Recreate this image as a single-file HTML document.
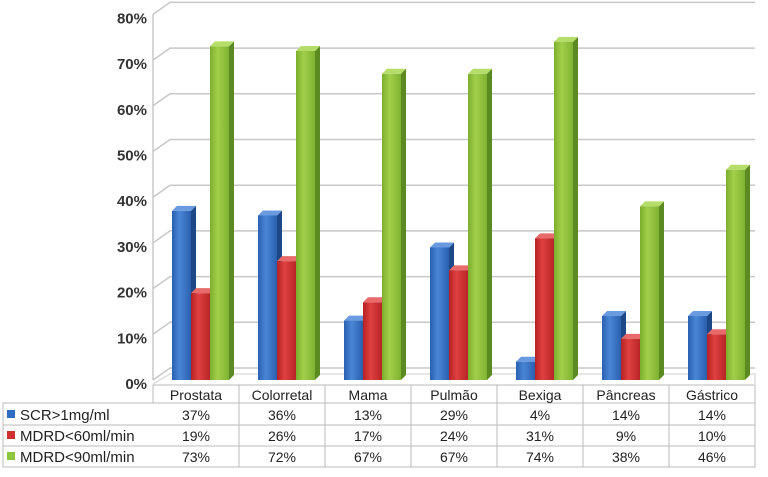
<!DOCTYPE html>
<html><head><style>
body{margin:0;background:#fff;}
svg text{font-family:"Liberation Sans",sans-serif;}
</style></head><body>
<svg width="768" height="472" xmlns="http://www.w3.org/2000/svg">
<defs>
<linearGradient id="gb" x1="0" x2="1"><stop offset="0" stop-color="#2a5fb0"/><stop offset=".4" stop-color="#4a86d6"/><stop offset="1" stop-color="#2b5fae"/></linearGradient>
<linearGradient id="gr" x1="0" x2="1"><stop offset="0" stop-color="#b52223"/><stop offset=".4" stop-color="#e04040"/><stop offset="1" stop-color="#b72527"/></linearGradient>
<linearGradient id="gg" x1="0" x2="1"><stop offset="0" stop-color="#7cae2e"/><stop offset=".4" stop-color="#a2cf4a"/><stop offset="1" stop-color="#80b232"/></linearGradient>
</defs>
<g id="grid" stroke="#c8c8c8" stroke-width="1.5" fill="none"></g>
<g id="bars"></g>
<g id="tbl"></g>
<script>
var ns="http://www.w3.org/2000/svg";
function el(p,t,a,txt){var e=document.createElementNS(ns,t);for(var k in a)e.setAttribute(k,a[k]);if(txt!=null)e.textContent=txt;document.getElementById(p).appendChild(e);return e;}
var k=4.57,base=380;
for(var i=0;i<=8;i++){var y=base-i*10*k;
 el('grid','polyline',{points:"153,"+y+" 170,"+(y-12)+" 755,"+(y-12)});
 el('tbl','text',{x:147,y:y+9,'text-anchor':'end','font-size':15,'font-weight':'bold',fill:'#333'},(i*10)+'%');}
el('grid','line',{x1:153,y1:base-80*k,x2:153,y2:base});
el('grid','polyline',{points:"153,384 170,374 755,374 755,384",stroke:"#ddd"});
var cats=["Prostata","Colorretal","Mama","Pulmão","Bexiga","Pâncreas","Gástrico"];
var d=[[37,36,13,29,4,14,14],[19,26,17,24,31,9,10],[73,72,67,67,74,38,46]];
var fills=['url(#gb)','url(#gr)','url(#gg)'],sideC=['#1d4887','#8c1a1a','#5c8a22'],topC=['#6a9be0','#e86a6a','#b5dd6a'];
for(var c=0;c<7;c++){for(var s=0;s<3;s++){var x=172+c*86+s*19,w=19,h=d[s][c]*k,y=base-h;
 el('bars','polygon',{points:(x+w)+","+y+" "+(x+w+5)+","+(y-5)+" "+(x+w+5)+","+(base-5)+" "+(x+w)+","+base,fill:sideC[s]});
 el('bars','polygon',{points:x+","+y+" "+(x+5)+","+(y-5)+" "+(x+w+5)+","+(y-5)+" "+(x+w)+","+y,fill:topC[s]});
 el('bars','rect',{x:x,y:y,width:w,height:h,fill:fills[s]});}}
var cols=[153,239,325,411,497,583,669,755];
el('tbl','rect',{x:153,y:385,width:602,height:18,fill:'none',stroke:'#bbb'});
el('tbl','rect',{x:3,y:403,width:752,height:64,fill:'none',stroke:'#bbb'});
[425,446].forEach(function(y){el('tbl','line',{x1:3,y1:y,x2:755,y2:y,stroke:'#bbb'});});
for(var i=1;i<7;i++)el('tbl','line',{x1:cols[i],y1:385,x2:cols[i],y2:467,stroke:'#bbb'});
for(var c=0;c<7;c++){var cx=(cols[c]+cols[c+1])/2;
 el('tbl','text',{x:cx,y:400,'text-anchor':'middle','font-size':14,fill:'#222'},cats[c]);
 for(var s=0;s<3;s++)el('tbl','text',{x:cx,y:420+s*21,'text-anchor':'middle','font-size':14,fill:'#222'},d[s][c]+'%');}
var labs=["SCR>1mg/ml","MDRD<60ml/min","MDRD<90ml/min"],lc=['#2e6cc4','#d03030','#8cc63e'];
for(var s=0;s<3;s++){el('tbl','rect',{x:7,y:410+s*21,width:8,height:8,fill:lc[s]});
 el('tbl','text',{x:20,y:420+s*21,'font-size':15,fill:'#222'},labs[s]);}
</script>
</svg>
</body></html>
